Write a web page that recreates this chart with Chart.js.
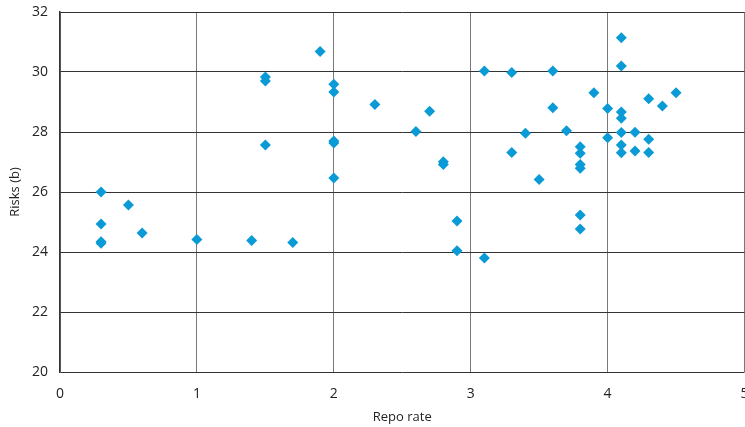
<!DOCTYPE html>
<html>
<head>
<meta charset="utf-8">
<script src="https://cdn.jsdelivr.net/npm/chart.js@4"></script>
<style>
  html, body { margin: 0; padding: 0; background: #fff; overflow: hidden; }
  /* slightly wider than the window so the plot runs to the right edge and the "5" is cut like the original */
  #wrap { width: 750px; height: 427px; position: relative; }
</style>
</head>
<body>
<div id="wrap"><canvas id="chart"></canvas></div>
<script>
// repo rate (x) and risks (y)
const repoRate = [
  0.3, 0.3, 0.3, 0.3, 0.5, 0.6, 1.0, 1.4, 1.7,
  1.5, 1.5, 1.5, 1.9,
  2.0, 2.0, 2.0, 2.0, 2.0,
  2.3, 2.6, 2.7, 2.8, 2.8, 2.9, 2.9,
  3.1, 3.1, 3.3, 3.3, 3.4, 3.5, 3.6, 3.6, 3.7,
  3.8, 3.8, 3.8, 3.8, 3.8, 3.8, 3.9,
  4.0, 4.0,
  4.1, 4.1, 4.1, 4.1, 4.1, 4.1, 4.1,
  4.2, 4.2, 4.3, 4.3, 4.3, 4.4, 4.5
];
const risks = [
  26.0, 24.93, 24.34, 24.29, 25.57, 24.63, 24.42, 24.38, 24.32,
  29.83, 29.7, 27.57, 30.68,
  29.59, 29.33, 27.7, 27.63, 26.47,
  28.92, 28.02, 28.69, 27.01, 26.92, 25.03, 24.04,
  30.03, 23.8, 29.98, 27.32, 27.96, 26.42, 30.03, 28.81, 28.04,
  27.51, 27.29, 26.92, 26.79, 25.23, 24.77, 29.31,
  28.78, 27.81,
  31.14, 30.2, 28.67, 28.46, 27.98, 27.57, 27.31,
  27.99, 27.37, 29.11, 27.76, 27.32, 28.87, 29.31
];
const xTicks = [0, 1, 2, 3, 4, 5];
const yTicks = [20, 22, 24, 26, 28, 30, 32];

const points = repoRate.map((x, i) => ({ x: x, y: risks[i] }));
const font = { family: "'Open Sans', 'Noto Sans', sans-serif", size: 14 };

new Chart(document.getElementById('chart'), {
  type: 'scatter',
  data: {
    datasets: [{
      label: 'Risks',
      data: points,
      pointStyle: 'rectRot',
      pointRadius: 5.5,
      pointHoverRadius: 5.5,
      backgroundColor: '#0a9bd6',
      borderColor: '#0a9bd6',
      borderWidth: 0
    }]
  },
  options: {
    responsive: true,
    maintainAspectRatio: false,
    animation: false,
    layout: { padding: { top: 12, right: 1, left: 0, bottom: 0 } },
    plugins: { legend: { display: false }, tooltip: { enabled: false } },
    scales: {
      x: {
        type: 'linear',
        min: 0, max: 5,
        afterBuildTicks: s => { s.ticks = xTicks.map(v => ({ value: v })); },
        afterFit: s => { s.height = 55; s.paddingLeft = 0; s.paddingRight = 0; },
        grid: { color: '#7a7a7a', lineWidth: 1, drawTicks: false },
        border: { display: false },
        ticks: { color: '#222', font: font, padding: 14 },
        title: { display: true, text: 'Repo rate', color: '#222', font: { family: font.family, size: 13 }, padding: { top: 2, bottom: 2 } }
      },
      y: {
        type: 'linear',
        min: 20, max: 32,
        afterBuildTicks: s => { s.ticks = yTicks.map(v => ({ value: v })); },
        afterFit: s => { s.width = 60; s.paddingTop = 0; s.paddingBottom = 0; },
        grid: { color: '#333', lineWidth: 1, drawTicks: false },
        border: { display: true, color: '#333', width: 1.5 },
        ticks: { color: '#222', font: font, padding: 12 },
        title: { display: true, text: 'Risks (b)', color: '#222', font: { family: font.family, size: 13 }, padding: { top: 7, bottom: 4 } }
      }
    }
  }
});
</script>
</body>
</html>
